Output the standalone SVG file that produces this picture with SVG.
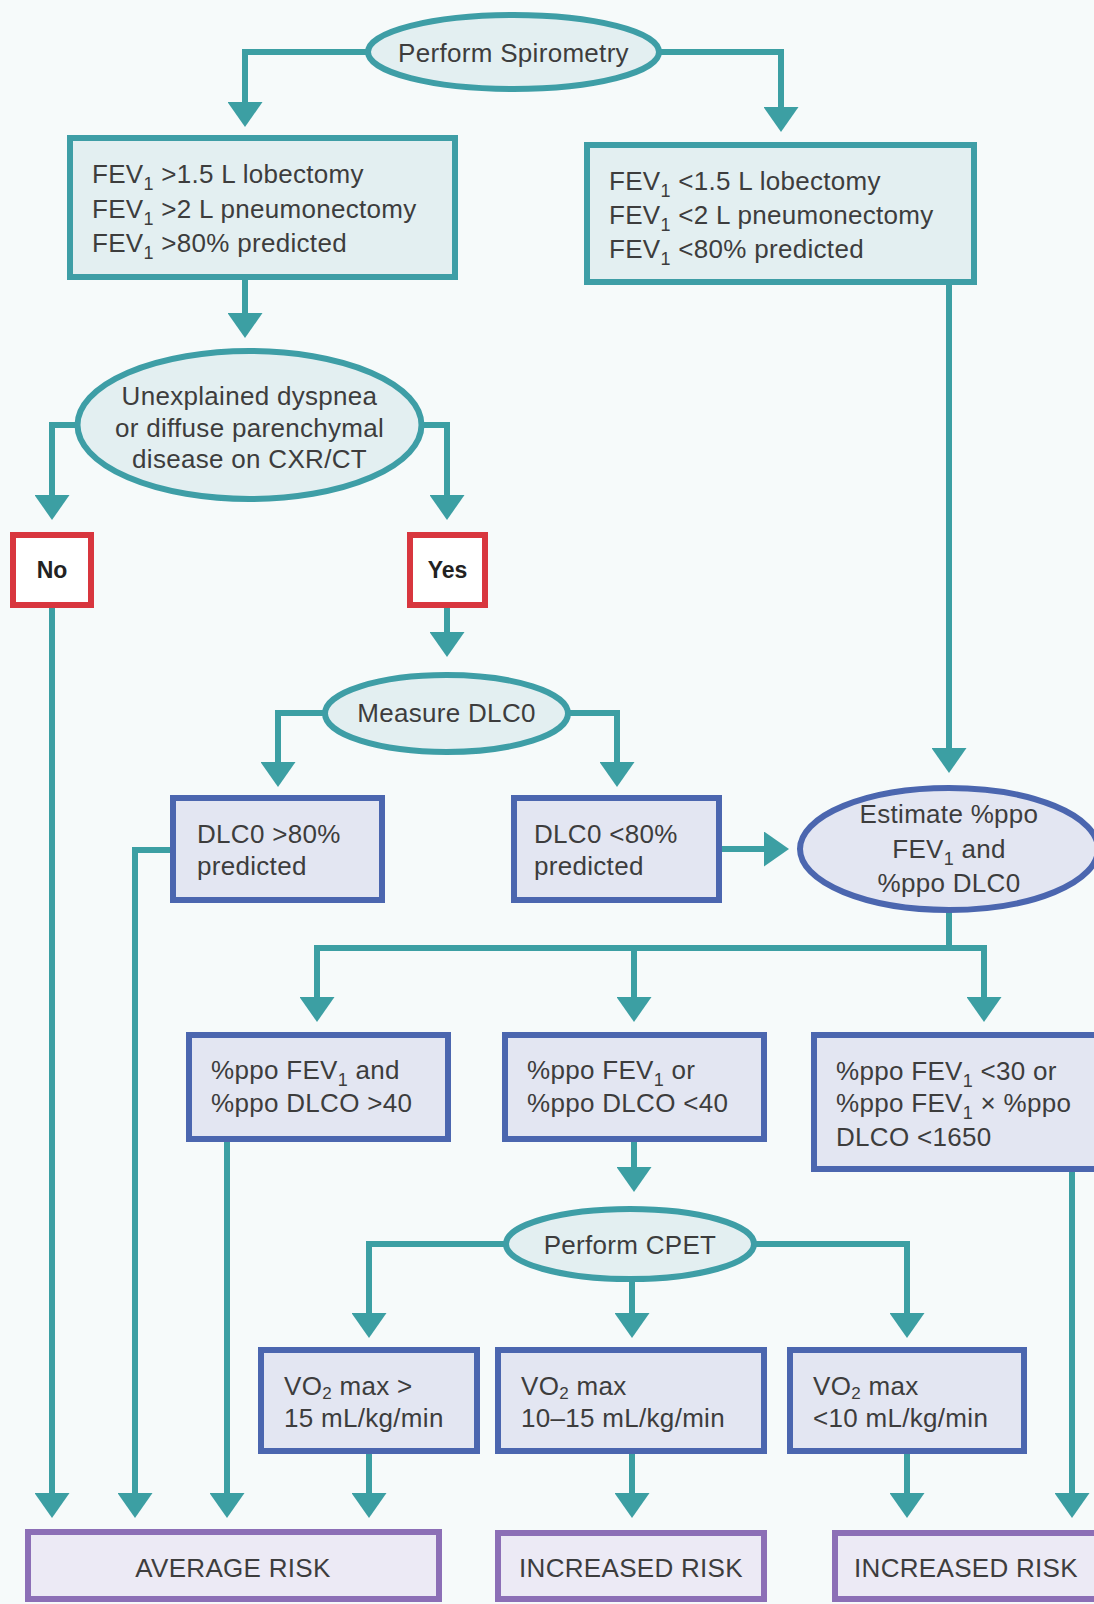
<svg xmlns="http://www.w3.org/2000/svg" width="1094" height="1604" viewBox="0 0 1094 1604">
  <style>
    .t { font-family: "Liberation Sans", Arial, sans-serif; font-size: 26px; fill: #3d3d3d; letter-spacing: 0.3px; }
    .c { text-anchor: middle; }
    .sub { font-size: 18px; }
    .sub2 { font-size: 17px; }
    .yn { font-family: "Liberation Sans", Arial, sans-serif; font-size: 23px; font-weight: bold; fill: #222; text-anchor: middle; }
    .teal { fill: #e3eff1; stroke: #3e9ea6; stroke-width: 6; }
    .blue { fill: #e3e6f2; stroke: #4b66af; stroke-width: 6; }
    .red { fill: #ffffff; stroke: #d8363e; stroke-width: 6; }
    .purple { fill: #eceaf5; stroke: #8c6fb6; stroke-width: 6; }
    .link { fill: none; stroke: #3c9fa3; stroke-width: 6; marker-end: url(#arrow); }
    .plain { fill: none; stroke: #3c9fa3; stroke-width: 6; }
  </style>
  <defs>
    <marker id="arrow" markerUnits="userSpaceOnUse" viewBox="0 0 25 35" markerWidth="25" markerHeight="35" refX="0" refY="17.5" orient="auto">
      <path d="M0,0 L25,17.5 L0,35 Z" fill="#3c9fa3"/>
    </marker>
  </defs>

  <rect x="0" y="0" width="1094" height="1604" fill="#f6fafa"/>

  <!-- connectors -->
  <g id="connectors">
    <path class="link" d="M366,52 H245 V102"/>
    <path class="link" d="M661,52 H781 V107"/>
    <path class="link" d="M245,280 V313"/>
    <path class="link" d="M76,425 H52 V495"/>
    <path class="link" d="M423,425 H447 V495"/>
    <path class="link" d="M447,608 V632"/>
    <path class="link" d="M323,713 H278 V762"/>
    <path class="link" d="M570,713 H617 V762"/>
    <path class="link" d="M949,285 V748"/>
    <path class="link" d="M722,849 H764"/>
    <path class="plain" d="M949,912 V948"/>
    <path class="plain" d="M314,948 H987"/>
    <path class="link" d="M317,945 V997"/>
    <path class="link" d="M634,945 V997"/>
    <path class="link" d="M984,945 V997"/>
    <path class="link" d="M52,608 V1493"/>
    <path class="link" d="M173,850 H135 V1493"/>
    <path class="link" d="M227,1142 V1493"/>
    <path class="link" d="M634,1142 V1167"/>
    <path class="link" d="M507,1244 H369 V1313"/>
    <path class="link" d="M632,1281 V1313"/>
    <path class="link" d="M753,1244 H907 V1313"/>
    <path class="link" d="M369,1454 V1493"/>
    <path class="link" d="M632,1454 V1493"/>
    <path class="link" d="M907,1454 V1493"/>
    <path class="link" d="M1072,1172 V1493"/>
  </g>

  <!-- start -->
  <g id="spirometry">
    <ellipse class="teal" cx="513.5" cy="52" rx="145.5" ry="37"/>
    <text class="t c" x="513.5" y="62">Perform Spirometry</text>
  </g>

  <g id="fev-high">
    <rect class="teal" x="70" y="138" width="385" height="139"/>
    <text class="t" x="92" y="183">FEV<tspan class="sub" dy="7">1</tspan><tspan dy="-7"> &gt;1.5 L lobectomy</tspan></text>
    <text class="t" x="92" y="218">FEV<tspan class="sub" dy="7">1</tspan><tspan dy="-7"> &gt;2 L pneumonectomy</tspan></text>
    <text class="t" x="92" y="252">FEV<tspan class="sub" dy="7">1</tspan><tspan dy="-7"> &gt;80% predicted</tspan></text>
  </g>

  <g id="fev-low">
    <rect class="teal" x="587" y="145" width="387" height="137"/>
    <text class="t" x="609" y="190">FEV<tspan class="sub" dy="7">1</tspan><tspan dy="-7"> &lt;1.5 L lobectomy</tspan></text>
    <text class="t" x="609" y="224">FEV<tspan class="sub" dy="7">1</tspan><tspan dy="-7"> &lt;2 L pneumonectomy</tspan></text>
    <text class="t" x="609" y="258">FEV<tspan class="sub" dy="7">1</tspan><tspan dy="-7"> &lt;80% predicted</tspan></text>
  </g>

  <g id="dyspnea">
    <ellipse class="teal" cx="249.5" cy="425" rx="172" ry="74"/>
    <text class="t c" x="249.5" y="405">Unexplained dyspnea</text>
    <text class="t c" x="249.5" y="437">or diffuse parenchymal</text>
    <text class="t c" x="249.5" y="468">disease on CXR/CT</text>
  </g>

  <g id="no">
    <rect class="red" x="13" y="535" width="78" height="70"/>
    <text class="yn" x="52" y="578">No</text>
  </g>

  <g id="yes">
    <rect class="red" x="410" y="535" width="75" height="70"/>
    <text class="yn" x="447.5" y="578">Yes</text>
  </g>

  <g id="measure-dlco">
    <ellipse class="teal" cx="446.5" cy="713.5" rx="121.5" ry="38.5"/>
    <text class="t c" x="446.5" y="722">Measure DLC0</text>
  </g>

  <g id="dlco-high">
    <rect class="blue" x="173" y="798" width="209" height="102"/>
    <text class="t" x="197" y="843">DLC0 &gt;80%</text>
    <text class="t" x="197" y="875">predicted</text>
  </g>

  <g id="dlco-low">
    <rect class="blue" x="514" y="798" width="205" height="102"/>
    <text class="t" x="534" y="843">DLC0 &lt;80%</text>
    <text class="t" x="534" y="875">predicted</text>
  </g>

  <g id="estimate">
    <ellipse class="blue" cx="949" cy="849" rx="149" ry="61"/>
    <text class="t c" x="949" y="823">Estimate %ppo</text>
    <text class="t c" x="949" y="858">FEV<tspan class="sub" dy="7">1</tspan><tspan dy="-7"> and</tspan></text>
    <text class="t c" x="949" y="892">%ppo DLC0</text>
  </g>

  <g id="ppo-above">
    <rect class="blue" x="189" y="1035" width="259" height="104"/>
    <text class="t" x="211" y="1079">%ppo FEV<tspan class="sub" dy="7">1</tspan><tspan dy="-7"> and</tspan></text>
    <text class="t" x="211" y="1112">%ppo DLCO &gt;40</text>
  </g>

  <g id="ppo-below">
    <rect class="blue" x="505" y="1035" width="259" height="104"/>
    <text class="t" x="527" y="1079">%ppo FEV<tspan class="sub" dy="7">1</tspan><tspan dy="-7"> or</tspan></text>
    <text class="t" x="527" y="1112">%ppo DLCO &lt;40</text>
  </g>

  <g id="ppo-low">
    <rect class="blue" x="814" y="1035" width="283" height="134"/>
    <text class="t" x="836" y="1080">%ppo FEV<tspan class="sub" dy="7">1</tspan><tspan dy="-7"> &lt;30 or</tspan></text>
    <text class="t" x="836" y="1112">%ppo FEV<tspan class="sub" dy="7">1</tspan><tspan dy="-7"> × %ppo</tspan></text>
    <text class="t" x="836" y="1146">DLCO &lt;1650</text>
  </g>

  <g id="cpet">
    <ellipse class="teal" cx="630" cy="1244" rx="124" ry="35"/>
    <text class="t c" x="630" y="1254">Perform CPET</text>
  </g>

  <g id="vo2-high">
    <rect class="blue" x="261" y="1350" width="216" height="101"/>
    <text class="t" x="284" y="1395">VO<tspan class="sub2" dy="4">2</tspan><tspan dy="-4"> max &gt;</tspan></text>
    <text class="t" x="284" y="1427">15 mL/kg/min</text>
  </g>

  <g id="vo2-mid">
    <rect class="blue" x="498" y="1350" width="266" height="101"/>
    <text class="t" x="521" y="1395">VO<tspan class="sub2" dy="4">2</tspan><tspan dy="-4"> max</tspan></text>
    <text class="t" x="521" y="1427">10–15 mL/kg/min</text>
  </g>

  <g id="vo2-low">
    <rect class="blue" x="790" y="1350" width="234" height="101"/>
    <text class="t" x="813" y="1395">VO<tspan class="sub2" dy="4">2</tspan><tspan dy="-4"> max</tspan></text>
    <text class="t" x="813" y="1427">&lt;10 mL/kg/min</text>
  </g>

  <g id="average-risk">
    <rect class="purple" x="28" y="1532" width="411" height="67"/>
    <text class="t c" x="233" y="1577">AVERAGE RISK</text>
  </g>

  <g id="increased-risk-cpet">
    <rect class="purple" x="498" y="1533" width="266" height="66"/>
    <text class="t c" x="631" y="1577">INCREASED RISK</text>
  </g>

  <g id="increased-risk-ppo">
    <rect class="purple" x="835" y="1533" width="262" height="66"/>
    <text class="t c" x="966" y="1577">INCREASED RISK</text>
  </g>
</svg>
